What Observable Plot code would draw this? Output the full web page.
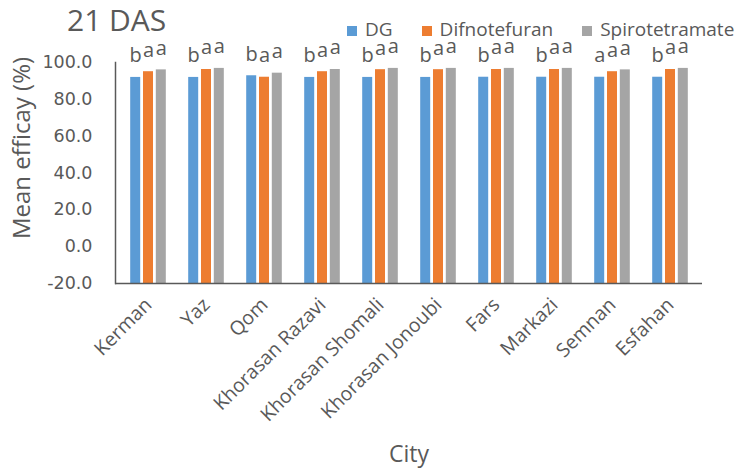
<!DOCTYPE html>
<html>
<head>
<meta charset="utf-8">
<script src="https://cdn.jsdelivr.net/npm/d3@7"></script>
<script src="https://cdn.jsdelivr.net/npm/@observablehq/plot@0.6"></script>
<style>
  html, body { margin: 0; padding: 0; background: #fff; overflow: hidden; }
  #wrap { position: relative; width: 741px; height: 472px; font-family: "Open Sans", sans-serif; color: #595959; }
  #title { position: absolute; left: 67px; top: 5px; font-size: 30px; line-height: 1; white-space: nowrap; }
  #legend { position: absolute; left: 347px; top: 20px; display: flex; align-items: center; font-size: 19px; line-height: 1; white-space: nowrap; }
  .item { display: flex; align-items: center; margin-right: 29px; }
  .sw { width: 10px; height: 10px; margin-right: 8px; margin-top: 2px; }
  #chart svg { display: block; max-width: none; }
</style>
</head>
<body>
<div id="wrap">
  <div id="chart"></div>
  <div id="title"></div>
  <div id="legend"></div>
</div>
<script>
// ---- data ----
const titleText = "21 DAS";
const cities = ["Kerman", "Yaz", "Qom", "Khorasan Razavi", "Khorasan Shomali", "Khorasan Jonoubi", "Fars", "Markazi", "Semnan", "Esfahan"];
const seriesNames = ["DG", "Difnotefuran", "Spirotetramate"];
const dgValues = [91.9, 91.9, 92.8, 91.9, 91.9, 91.9, 92.0, 92.0, 92.0, 92.0];
const difnotefuranValues = [95.0, 96.2, 92.0, 95.0, 96.1, 96.1, 96.2, 96.2, 95.0, 96.2];
const spirotetramateValues = [96.0, 96.8, 94.2, 96.2, 96.8, 96.8, 96.8, 96.8, 96.0, 96.8];
const dgLetters = ["b", "b", "b", "b", "b", "b", "b", "b", "a", "b"];
const difnotefuranLetters = ["a", "a", "a", "a", "a", "a", "a", "a", "a", "a"];
const spirotetramateLetters = ["a", "a", "a", "a", "a", "a", "a", "a", "a", "a"];
const yTicks = [-20, 0, 20, 40, 60, 80, 100];
const yLabel = "Mean efficay (%)";
const xLabel = "City";

// ---- styles ----
const colors = {"DG": "#5b9bd5", "Difnotefuran": "#ed7d31", "Spirotetramate": "#a5a5a5"};
const offsets = {"DG": -12.8, "Difnotefuran": 0, "Spirotetramate": 12.8};
const textColor = "#595959";
const axisColor = "#595959";

// ---- table built from arrays ----
const valueArrays = [dgValues, difnotefuranValues, spirotetramateValues];
const letterArrays = [dgLetters, difnotefuranLetters, spirotetramateLetters];
const table = [];
seriesNames.forEach((s, si) => {
  cities.forEach((c, ci) => {
    table.push({city: c, series: s, value: valueArrays[si][ci], letter: letterArrays[si][ci]});
  });
});
const yMin = yTicks[0];
const yMax = yTicks[yTicks.length - 1];

const seriesMarks = seriesNames.flatMap(s => {
  const rows = table.filter(d => d.series === s);
  return [
    Plot.barY(rows, {x: "city", y1: yMin, y2: "value", fill: colors[s], dx: offsets[s]}),
    Plot.text(rows, {x: "city", y: "value", text: "letter", dx: offsets[s], dy: -15, lineAnchor: "bottom", fontSize: 20, fill: textColor})
  ];
});

const chart = Plot.plot({
  width: 741,
  height: 472,
  marginLeft: 115,
  marginRight: 39,
  marginTop: 62,
  marginBottom: 189,
  style: {fontFamily: "'Open Sans', sans-serif", fontSize: "17px", background: "white", overflow: "visible"},
  x: {domain: cities, paddingInner: 0.83, paddingOuter: 0.415, axis: null},
  y: {domain: [yMin, yMax], axis: null},
  marks: [
    ...seriesMarks,
    Plot.axisY(yTicks, {tickSize: 0, tickPadding: 23, tickFormat: d => d.toFixed(1), fontSize: 17.5, fontFamily: "'DejaVu Sans', sans-serif", fill: textColor, label: null}),
    Plot.axisX({tickRotate: -45, tickSize: 0, tickPadding: 18, fontSize: 19.5, fill: textColor, label: null}),
    Plot.ruleY([yMin], {stroke: axisColor, strokeWidth: 1.5}),
    Plot.frame({anchor: "left", stroke: axisColor, strokeWidth: 1.5}),
    Plot.text([yLabel], {frameAnchor: "left", textAnchor: "middle", rotate: -90, dx: -93, dy: -25, fontSize: 24, fill: textColor}),
    Plot.text([xLabel], {frameAnchor: "bottom", dy: 178, fontSize: 23, fill: textColor})
  ]
});
document.getElementById("chart").appendChild(chart);

document.getElementById("title").textContent = titleText;
const legend = document.getElementById("legend");
seriesNames.forEach(s => {
  const item = document.createElement("div");
  item.className = "item";
  const sw = document.createElement("div");
  sw.className = "sw";
  sw.style.background = colors[s];
  const label = document.createElement("span");
  label.textContent = s;
  item.appendChild(sw);
  item.appendChild(label);
  legend.appendChild(item);
});
</script>
</body>
</html>
